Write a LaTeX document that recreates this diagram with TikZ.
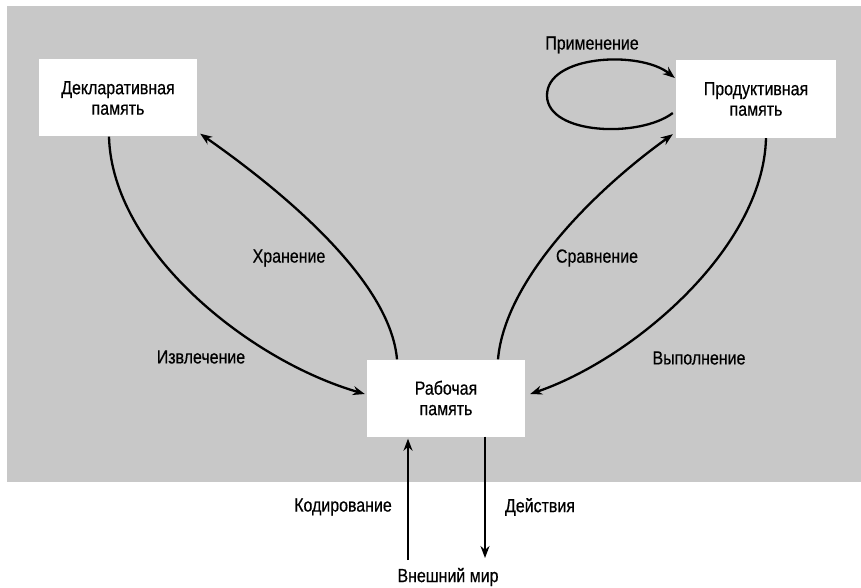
\documentclass[tikz,border=0pt]{standalone}
\usepackage{fontspec}
\setmainfont[FakeStretch=0.84,FakeBold=0.5]{Liberation Sans}
\usetikzlibrary{arrows.meta}
\definecolor{scan}{RGB}{200,200,200}
\begin{document}
\begin{tikzpicture}[x=1pt,y=-1pt,
  box/.style={fill=white, draw=none, minimum width=158pt, minimum height=77pt, align=center, font=\fontsize{19}{20.5}\selectfont, inner sep=0pt},
  lbl/.style={font=\fontsize{19}{20.5}\selectfont, inner sep=0pt},
  conn/.style={line width=2.3pt, -{Stealth[length=12pt,width=9pt]}}]
\useasboundingbox (0,0) rectangle (861,588);
\fill[scan] (7,6) rectangle (861,482);
\node[box] (decl) at (118,98) {Декларативная\\память};
\node[box, minimum width=160pt, minimum height=78pt] (prod) at (756,99) {Продуктивная\\память};
\node[box] (work) at (446,398) {Рабочая\\память};
% Извлечение
\draw[conn] ([xshift=-9pt]decl.south) .. controls +(3,113) and +(-117,-34) .. ([shift={(-2pt,4pt)}]work.west);
% Хранение
\draw[conn] ([xshift=-49pt]work.north) .. controls +(-7,-80) and +(80,56) .. ([shift={(3pt,3pt)}]decl.south east);
% Сравнение
\draw[conn] ([xshift=52pt]work.north) .. controls +(7,-80) and +(-78,56) .. ([shift={(-3pt,4pt)}]prod.south west);
% Выполнение
\draw[conn] ([xshift=10pt]prod.south) .. controls +(-3,112) and +(100,-34) .. ([shift={(5pt,4pt)}]work.east);
% Применение loop
\coordinate (loopL) at (547,96);
\draw[conn] ([shift={(-3pt,-14pt)}]prod.west) .. controls +(-33,25) and +(1,39) .. (loopL) .. controls +(-1,-41) and +(-35,-28) .. ([shift={(-1pt,21pt)}]prod.west);
% external world
\coordinate (extin) at (408,560);
\coordinate (extout) at (485,558);
\draw[conn, shorten >=2pt] (extin) -- (extin |- work.south);
\draw[conn] (extout |- work.south) -- (extout);
% labels
\node[lbl] (l1) at (201,357) {Извлечение};
\node[lbl] (l2) at (289,258) {Хранение};
\node[lbl] (l3) at (597,258) {Сравнение};
\node[lbl] (l4) at (699,358) {Выполнение};
\node[lbl] (l5) at (592,45) {Применение};
\node[lbl] (l6) at (343,507) {Кодирование};
\node[lbl] (l7) at (540,507) {Действия};
\node[lbl] (l8) at (448,577) {Внешний мир};
\end{tikzpicture}
\end{document}
